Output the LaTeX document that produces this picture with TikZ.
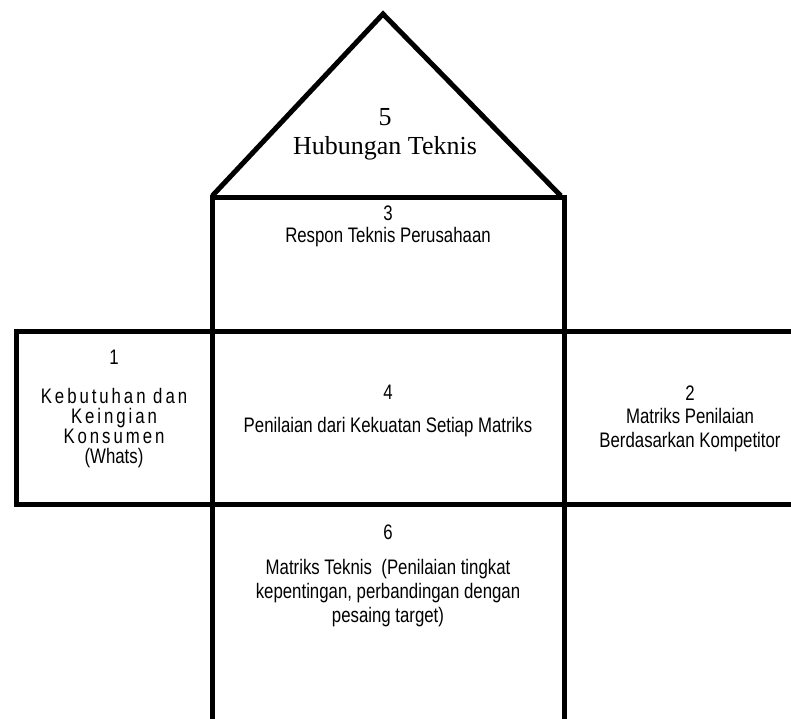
\documentclass[tikz,border=0pt]{standalone}
\usepackage{fontspec}
\setmainfont{Liberation Serif}
\setsansfont{Liberation Sans}
\begin{document}
\begin{tikzpicture}[x=1pt,y=-1pt,
  wall/.style={line width=5pt, line join=miter, line cap=rect, black},
  sanstext/.style={font=\sffamily\fontsize{21}{24}\selectfont\addfontfeature{FakeStretch=0.8}, align=center, inner sep=0pt},
  spacedtext/.style={font=\sffamily\fontsize{21}{20}\selectfont\addfontfeature{FakeStretch=0.8,LetterSpace=14}, align=center, inner sep=0pt},
  seriftext/.style={font=\rmfamily\fontsize{26}{31}\selectfont, align=center, inner sep=0pt}]
\useasboundingbox (0,0) rectangle (791,718);
% corners
\coordinate (apex) at (383,14);
\coordinate (tl) at (214,194);
\coordinate (tr) at (559,194);
\coordinate (c1) at (212,197);
\coordinate (c2) at (564,197);
\coordinate (c3) at (564,725);
\coordinate (c4) at (212,725);
\coordinate (r1) at (16,331);
\coordinate (r2) at (800,331);
\coordinate (r3) at (800,504);
\coordinate (r4) at (16,504);
% roof
\draw[wall] (tl) -- (apex) -- (tr);
% column
\draw[wall] (c1) -- (c2) -- (c3) -- (c4) -- cycle;
% middle row
\draw[wall] (r1) -- (r2) -- (r3) -- (r4) -- cycle;
% texts
\node[seriftext] (n5) at (385,117) {5};
\node[seriftext] (t5) at (385,148) {Hubungan Teknis};
\node[sanstext] (n3) at (388,213) {3};
\node[sanstext] (t3) at (388,237) {Respon Teknis Perusahaan};
\node[sanstext] (n1) at (114,357) {1};
\node[spacedtext] (t1) at (114,428) {Kebutuhan dan\\Keingian\\Konsumen\\{\addfontfeature{LetterSpace=0}(Whats)}};
\node[sanstext] (n4) at (388,392) {4};
\node[sanstext] (t4) at (388,427) {Penilaian dari Kekuatan Setiap Matriks};
\node[sanstext] (n2) at (690,393) {2};
\node[sanstext] (t2) at (690,430) {Matriks Penilaian\\Berdasarkan Kompetitor};
\node[sanstext] (n6) at (388,532) {6};
\node[sanstext] (t6) at (388,593) {Matriks Teknis~ (Penilaian tingkat\\kepentingan, perbandingan dengan\\pesaing target)};
\end{tikzpicture}
\end{document}
